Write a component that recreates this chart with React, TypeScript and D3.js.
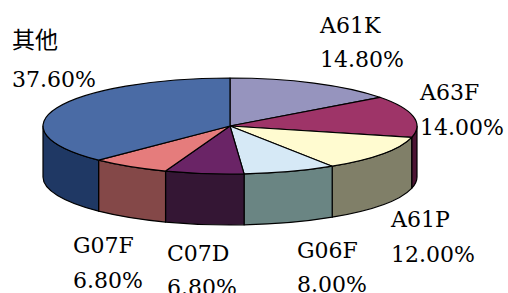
import { useMemo } from "react";
import * as d3 from 'd3';

const categories = ['A61K', 'A63F', 'A61P', 'G06F', 'C07D', 'G07F', '其他'];
const values = [14.8, 14.0, 12.0, 8.0, 6.8, 6.8, 37.6];
const valueLabels = ['14.80%', '14.00%', '12.00%', '8.00%', '6.80%', '6.80%', '37.60%'];

const topColors = ['#9694be', '#9e3468', '#fffbd0', '#d6e9f6', '#6a2466', '#e57c7c', '#4a6ba5'];
const sideColors = ['#4b4a5f', '#4c1433', '#807f68', '#6a8583', '#341634', '#844848', '#1f3864'];

// label anchors: x, baseline of name, baseline of percent
const labelPos: [number, number, number][] = [
    [320, 33, 67],
    [420, 100, 135],
    [391, 227, 262],
    [297, 258, 292],
    [167, 261, 295],
    [73, 253, 288],
    [12, 48, 87],
];

const serif = 'DejaVu Serif, serif';
const cjk = 'Noto Sans CJK TC, Noto Sans CJK SC, sans-serif';

export default function App() {
    const w = 508, h = 293;
    const cx = 230, cy = 126, rx = 187, ry = 48, depth = 51;

    const arcs = useMemo(() => d3.pie<number>().sort(null).value(d => d)(values), []);

    const pt = (a: number) => [cx + rx * Math.sin(a), cy - ry * Math.cos(a)];

    const topPath = (a0: number, a1: number) => {
        const [x0, y0] = pt(a0);
        const [x1, y1] = pt(a1);
        const large = a1 - a0 > Math.PI ? 1 : 0;
        return `M${cx},${cy}L${x0},${y0}A${rx},${ry} 0 ${large} 1 ${x1},${y1}Z`;
    };

    // front wall, only the part that faces the viewer
    const sidePath = (a0: number, a1: number) => {
        const lo = Math.max(a0, Math.PI / 2);
        const hi = Math.min(a1, Math.PI * 1.5);
        if (hi <= lo) return null;
        const [x0, y0] = pt(lo);
        const [x1, y1] = pt(hi);
        return `M${x0},${y0}A${rx},${ry} 0 0 1 ${x1},${y1}L${x1},${y1 + depth}A${rx},${ry} 0 0 0 ${x0},${y0 + depth}Z`;
    };

    const isCjk = (s: string) => /[^\x00-\x7f]/.test(s);

    return <svg width={w} height={h} style={{ position: 'absolute', left: 0, top: 0, background: '#fff' }}>
        <g stroke="#000" strokeWidth={1.2} strokeLinejoin="round">
            {arcs.map((a, i) => {
                const d = sidePath(a.startAngle, a.endAngle);
                return d ? <path key={'s' + i} d={d} fill={sideColors[i]} /> : null;
            })}
            {arcs.map((a, i) => (
                <path key={'t' + i} d={topPath(a.startAngle, a.endAngle)} fill={topColors[i]} />
            ))}
        </g>
        <g fill="#000">
            {categories.map((c, i) => (
                <g key={c}>
                    <text x={labelPos[i][0]} y={labelPos[i][1]}
                        style={{ fontFamily: isCjk(c) ? cjk : serif, fontSize: isCjk(c) ? 23 : 22 }}>{c}</text>
                    <text x={labelPos[i][0]} y={labelPos[i][2]}
                        style={{ fontFamily: serif, fontSize: 22 }}>{valueLabels[i]}</text>
                </g>
            ))}
        </g>
    </svg>
}
